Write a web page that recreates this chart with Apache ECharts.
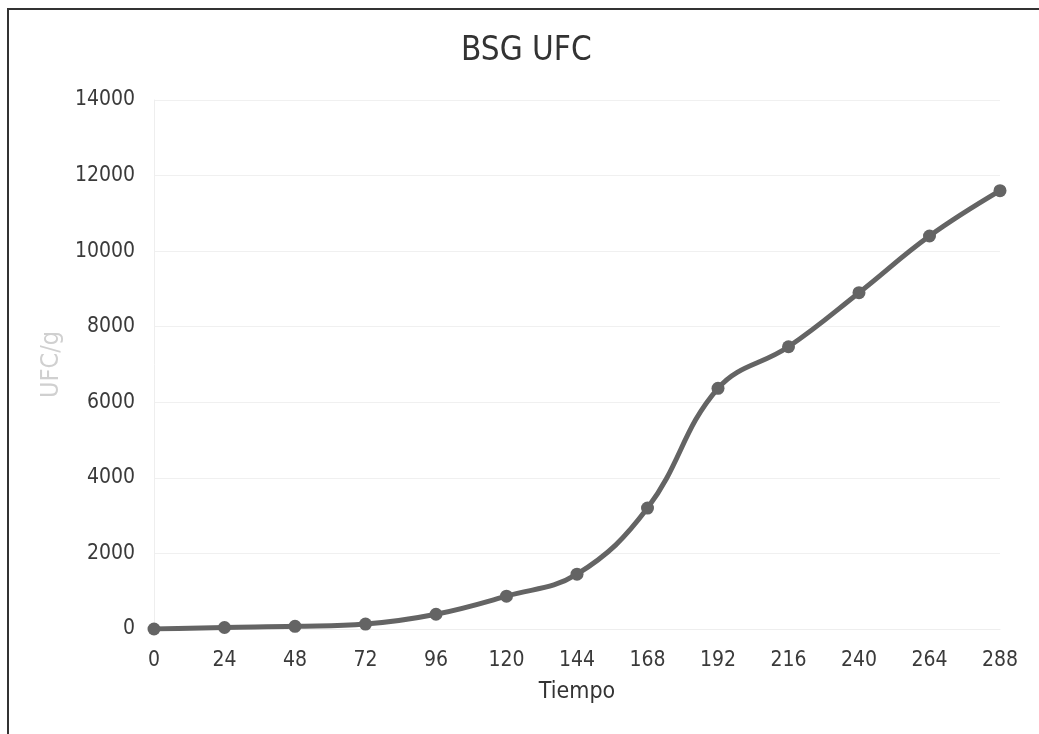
<!DOCTYPE html>
<html>
<head>
<meta charset="utf-8">
<script src="https://cdn.jsdelivr.net/npm/echarts@6/dist/echarts.min.js"></script>
<style>
html,body{margin:0;padding:0;background:#fff;}
#wrap{position:absolute;left:0;top:0;width:1039px;height:734px;overflow:hidden;}
#frame{position:absolute;left:7px;top:8px;width:1100px;height:800px;border-left:2.5px solid #333;border-top:2.5px solid #333;box-sizing:border-box;}
#chart{position:absolute;left:0;top:0;width:1039px;height:734px;}
</style>
</head>
<body>
<div id="wrap">
<div id="frame"></div>
<div id="chart"></div>
</div>
<script>
const categories = ['0','24','48','72','96','120','144','168','192','216','240','264','288'];
const ufcValues = [0, 40, 70, 130, 390, 870, 1450, 3200, 6370, 7470, 8900, 10400, 11600];
const yTicks = {min: 0, max: 14000, interval: 2000};

const FONT = '"DejaVu Sans Condensed", "DejaVu Sans", sans-serif';
const chart = echarts.init(document.getElementById('chart'), null, {renderer: 'canvas'});
chart.setOption({
  backgroundColor: 'transparent',
  animation: false,
  title: {
    text: 'BSG UFC',
    left: 456,
    top: 30,
    textStyle: {fontFamily: FONT, fontSize: 33, fontWeight: 'normal', color: '#333'}
  },
  grid: {left: 154, right: 39, top: 100, bottom: 105, containLabel: false},
  xAxis: {
    type: 'category',
    data: categories,
    boundaryGap: false,
    name: 'Tiempo',
    nameLocation: 'middle',
    nameGap: 52,
    nameTextStyle: {fontFamily: FONT, fontSize: 23, color: '#333'},
    axisLine: {show: true, lineStyle: {color: '#eeeeee', width: 1}},
    axisTick: {show: false},
    axisLabel: {fontFamily: FONT, fontSize: 21, color: '#3a3a3a', margin: 21},
    splitLine: {show: false}
  },
  yAxis: {
    type: 'value',
    min: yTicks.min,
    max: yTicks.max,
    interval: yTicks.interval,
    name: 'UFC/g',
    nameLocation: 'middle',
    nameGap: 82,
    nameTextStyle: {fontFamily: FONT, fontSize: 25, color: '#d0d0d0'},
    axisLine: {show: true, lineStyle: {color: '#eeeeee', width: 1}},
    axisTick: {show: false},
    axisLabel: {fontFamily: FONT, fontSize: 21, color: '#3a3a3a', margin: 19, formatter: function (v) { return String(v); }},
    splitLine: {show: true, lineStyle: {color: '#f0f0f0', width: 1}}
  },
  series: [{
    type: 'line',
    data: ufcValues,
    smooth: 0.4,
    symbol: 'circle',
    symbolSize: 13,
    lineStyle: {color: '#646464', width: 5},
    itemStyle: {color: '#646464'}
  }]
});
</script>
</body>
</html>
